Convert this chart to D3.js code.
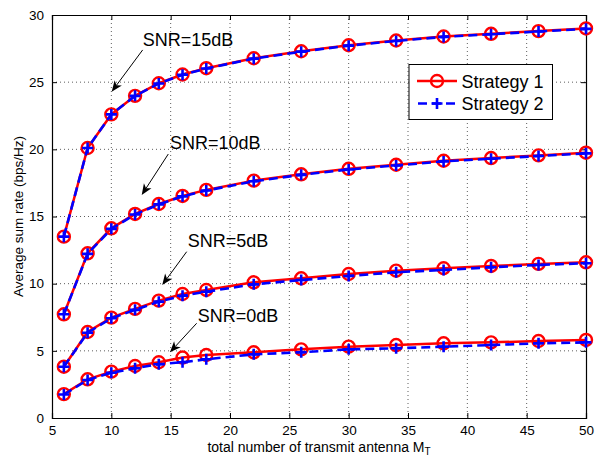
<!DOCTYPE html>
<html><head><meta charset="utf-8">
<script src="https://cdn.jsdelivr.net/npm/d3@7"></script>
<style>body{margin:0;background:#fff}svg{display:block}text{font-family:"Liberation Sans",Arial,Helvetica,sans-serif}</style>
</head><body>
<script>
const antennas = [6,8,10,12,14,16,18,22,26,30,34,38,42,46,50];
const s1_15 = [13.5,20.1,22.6,23.98,24.92,25.57,26.04,26.78,27.3,27.75,28.1,28.4,28.6,28.8,29.0];
const s2_15 = [13.5,20.1,22.6,23.98,24.9,25.55,26.02,26.75,27.27,27.72,28.07,28.37,28.57,28.77,28.97];
const s1_10 = [7.72,12.26,14.12,15.19,15.93,16.53,16.98,17.67,18.14,18.55,18.85,19.15,19.35,19.55,19.75];
const s2_10 = [7.72,12.22,14.08,15.15,15.9,16.5,16.93,17.62,18.1,18.5,18.8,19.1,19.3,19.5,19.7];
const s1_5 = [3.82,6.4,7.47,8.12,8.74,9.23,9.53,10.1,10.4,10.72,10.97,11.15,11.32,11.47,11.59];
const s2_5 = [3.82,6.35,7.42,8.05,8.66,9.1,9.4,9.95,10.27,10.57,10.85,11.02,11.22,11.39,11.52];
const s1_0 = [1.78,2.88,3.45,3.87,4.15,4.5,4.69,4.89,5.11,5.31,5.43,5.56,5.63,5.73,5.81];
const s2_0 = [1.75,2.83,3.37,3.7,4.0,4.15,4.37,4.74,4.89,5.11,5.19,5.31,5.43,5.56,5.63];
const xTicks = [5,10,15,20,25,30,35,40,45,50];
const yTicks = [0,5,10,15,20,25,30];
const seriesNames = ["Strategy 1","Strategy 2"];
const annotations = [
  {label:"SNR=15dB", tx:12.64, ty:27.69, x0:12.64, y0:27.4, x1:10.03, y1:24.29},
  {label:"SNR=10dB", tx:14.94, ty:20.03, x0:14.8, y0:19.65, x1:12.56, y1:16.6},
  {label:"SNR=5dB", tx:16.43, ty:12.71, x0:16.35, y0:12.38, x1:14.29, y1:9.9},
  {label:"SNR=0dB", tx:17.28, ty:7.17, x0:17.19, y0:7.05, x1:14.94, y1:4.89}
];

const W=600,H=457;
const L=52,R=586,T=15,B=418;
const svg=d3.select("body").append("svg").attr("width",W).attr("height",H);
const x=d3.scaleLinear().domain([5,50]).range([L,R]);
const y=d3.scaleLinear().domain([0,30]).range([B,T]);

// grid
const g=svg.append("g");
g.selectAll(".gx").data(xTicks.slice(1,-1)).enter().append("line")
 .attr("x1",d=>x(d)).attr("x2",d=>x(d)).attr("y1",T).attr("y2",B)
 .attr("stroke","#333").attr("stroke-width",0.8).attr("stroke-dasharray","1,3");
g.selectAll(".gy").data(yTicks.slice(1,-1)).enter().append("line")
 .attr("y1",d=>y(d)).attr("y2",d=>y(d)).attr("x1",L).attr("x2",R)
 .attr("stroke","#333").attr("stroke-width",0.8).attr("stroke-dasharray","1,3");

// axes with inward ticks
const axB=d3.axisBottom(x).tickValues(xTicks).tickSize(-5).tickPadding(7).tickFormat(d3.format("d"));
const axL=d3.axisLeft(y).tickValues(yTicks).tickSize(-5).tickPadding(8).tickFormat(d3.format("d"));
const axT=d3.axisTop(x).tickValues(xTicks).tickSize(-5).tickFormat("");
const axR=d3.axisRight(y).tickValues(yTicks).tickSize(-5).tickFormat("");
function style(sel){sel.select(".domain").attr("stroke","#000").attr("stroke-width",1.2);
 sel.selectAll(".tick line").attr("stroke","#000").attr("stroke-width",1);
 sel.selectAll(".tick text").attr("font-size",13.5).attr("fill","#000").attr("font-family","'Liberation Sans',Arial,sans-serif");}
svg.append("g").attr("transform",`translate(0,${B})`).call(axB).call(style);
svg.append("g").attr("transform",`translate(${L},0)`).call(axL).call(style);
svg.append("g").attr("transform",`translate(0,${T})`).call(axT).call(style);
svg.append("g").attr("transform",`translate(${R},0)`).call(axR).call(style);

const line=d3.line().x(d=>x(d[0])).y(d=>y(d[1]));
const s1=[s1_15,s1_10,s1_5,s1_0], s2=[s2_15,s2_10,s2_5,s2_0];
const red="#ff0000", blue="#0000ff";
s1.forEach(vals=>{
  const pts=antennas.map((a,i)=>[a,vals[i]]);
  svg.append("path").attr("d",line(pts)).attr("fill","none").attr("stroke",red).attr("stroke-width",2.5);
  svg.append("g").selectAll("circle").data(pts).enter().append("circle")
   .attr("cx",d=>x(d[0])).attr("cy",d=>y(d[1])).attr("r",6)
   .attr("fill","none").attr("stroke",red).attr("stroke-width",2.4);
});
function plus(sel,cx,cy,s){sel.append("path").attr("d",`M${cx-s},${cy}H${cx+s}M${cx},${cy-s}V${cy+s}`)
  .attr("stroke",blue).attr("stroke-width",2.6).attr("fill","none");}
s2.forEach(vals=>{
  const pts=antennas.map((a,i)=>[a,vals[i]]);
  svg.append("path").attr("d",line(pts)).attr("fill","none").attr("stroke",blue).attr("stroke-width",2.6).attr("stroke-dasharray","9,5");
  const gg=svg.append("g");
  pts.forEach(p=>plus(gg,x(p[0]),y(p[1]),5.5));
});

// annotations
annotations.forEach(a=>{
  svg.append("text").attr("x",x(a.tx)).attr("y",y(a.ty)).attr("font-size",18).text(a.label);
  const x0=x(a.x0),y0=y(a.y0),x1=x(a.x1),y1=y(a.y1);
  const ang=Math.atan2(y1-y0,x1-x0);
  const hl=11, hw=4.5, back=3;
  const ux=Math.cos(ang), uy=Math.sin(ang), px=-uy, py=ux;
  const bx=x1-ux*hl, by=y1-uy*hl;
  const nx=x1-ux*(hl-back), ny=y1-uy*(hl-back);
  svg.append("line").attr("x1",x0).attr("y1",y0).attr("x2",nx).attr("y2",ny).attr("stroke","#000").attr("stroke-width",1);
  svg.append("path").attr("d",`M${x1},${y1}L${bx+px*hw},${by+py*hw}L${nx},${ny}L${bx-px*hw},${by-py*hw}Z`).attr("fill","#000");
});

// legend
const lg=svg.append("g");
lg.append("rect").attr("x",409).attr("y",64.5).attr("width",143.5).attr("height",55).attr("fill","#fff").attr("stroke","#000").attr("stroke-width",1);
const rows=[81,103.5];
lg.append("line").attr("x1",417).attr("x2",457).attr("y1",rows[0]).attr("y2",rows[0]).attr("stroke",red).attr("stroke-width",2.5);
lg.append("circle").attr("cx",437).attr("cy",rows[0]).attr("r",6).attr("fill","none").attr("stroke",red).attr("stroke-width",2.4);
lg.append("line").attr("x1",417).attr("x2",457).attr("y1",rows[1]).attr("y2",rows[1]).attr("stroke",blue).attr("stroke-width",2.6).attr("stroke-dasharray","9,5").attr("stroke-dashoffset",-1);
plus(lg,437,rows[1],5.5);
seriesNames.forEach((n,i)=>lg.append("text").attr("x",461.5).attr("y",rows[i]+6.5).attr("font-size",18).text(n));

// axis labels
const xl=svg.append("text").attr("x",(L+R)/2).attr("y",452).attr("text-anchor","middle").attr("font-size",14);
xl.append("tspan").text("total number of transmit antenna M");
xl.append("tspan").attr("font-size",10).attr("dy",2.5).text("T");
svg.append("text").attr("transform",`translate(23,${(T+B)/2}) rotate(-90)`).attr("text-anchor","middle").attr("font-size",13.5).text("Average sum rate (bps/Hz)");
</script>
</body></html>
